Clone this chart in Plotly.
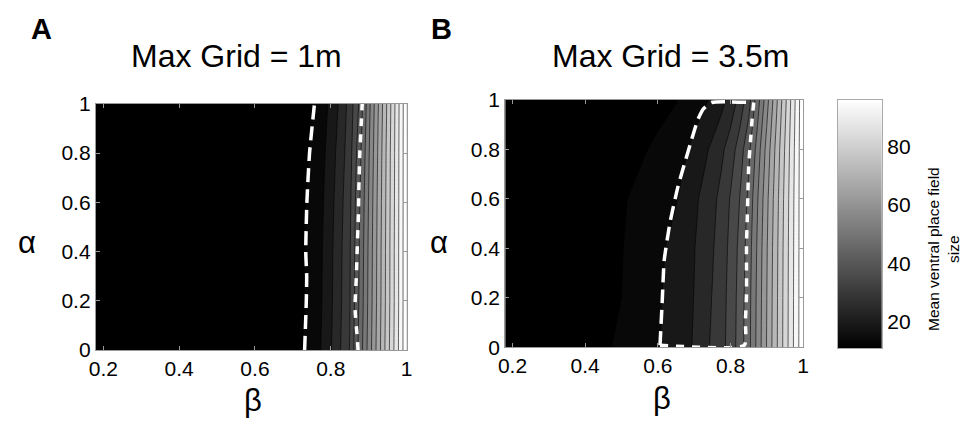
import numpy as np
import plotly.graph_objects as go

# ---------------- data ----------------
beta = [0.18, 0.3, 0.4, 0.5, 0.6, 0.65, 0.7, 0.725, 0.75, 0.775, 0.8,
        0.825, 0.85, 0.875, 0.9, 0.925, 0.95, 0.975, 1.0]
alpha = [0, 0.2, 0.4, 0.6, 0.8, 1.0]

# Panel A : Max Grid = 1m  (rows = alpha, cols = beta)
zA_a00 = [10, 10, 10, 10.2, 10.5, 10.8, 11.2, 11.7, 13.9, 17.2, 21.6, 26.8, 32.2, 43.3, 53.8, 64.4, 75.0, 85.5, 96]
zA_a02 = [10, 10, 10, 10.2, 10.5, 10.8, 11.2, 11.6, 13.5, 16.7, 21.1, 26.2, 31.6, 42.4, 53.1, 63.8, 74.5, 85.2, 96]
zA_a04 = [10, 10, 10, 10.2, 10.5, 10.8, 11.1, 11.6, 13.4, 16.5, 20.9, 26.0, 31.4, 42.0, 52.8, 63.6, 74.4, 85.2, 96]
zA_a06 = [10, 10, 10, 10.2, 10.4, 10.7, 11.0, 11.5, 13.0, 16.0, 20.3, 25.4, 30.8, 41.2, 52.2, 63.2, 74.1, 85.0, 96]
zA_a08 = [10, 10, 10, 10.1, 10.4, 10.6, 10.9, 11.4, 12.4, 15.3, 19.5, 24.4, 29.9, 39.8, 51.3, 62.6, 73.8, 84.9, 96]
zA_a10 = [10, 10, 10, 10.1, 10.3, 10.6, 10.9, 11.2, 11.7, 14.4, 18.2, 23.1, 29.0, 37.5, 50.2, 61.7, 73.1, 84.6, 96]

# Panel B : Max Grid = 3.5m
zB_a00 = [10, 10.5, 11.2, 12.3, 16.6, 19.3, 22.4, 25.2, 27.8, 30.4, 34.0, 39.2, 45.4, 53.8, 62.3, 70.7, 79.1, 87.6, 96]
zB_a02 = [10, 10.4, 11.1, 12.0, 16.4, 19.1, 22.1, 24.7, 27.2, 30.1, 33.7, 38.9, 45.1, 53.5, 62.0, 70.5, 79.0, 87.5, 96]
zB_a04 = [10, 10.3, 10.9, 11.8, 15.9, 18.6, 21.8, 24.1, 26.5, 29.6, 33.2, 38.3, 44.4, 53.0, 61.6, 70.2, 78.8, 87.4, 96]
zB_a06 = [10, 10.2, 10.7, 11.5, 14.6, 16.7, 20.9, 23.2, 25.6, 28.5, 32.4, 37.0, 43.1, 51.9, 60.7, 69.5, 78.4, 87.2, 96]
zB_a08 = [10, 10.1, 10.4, 11.0, 12.4, 14.3, 18.4, 20.6, 23.1, 25.9, 29.5, 34.3, 40.6, 49.4, 58.8, 68.1, 77.4, 86.7, 96]
zB_a10 = [10, 10.0, 10.2, 10.6, 11.3, 11.8, 14.4, 16.0, 17.8, 20.4, 23.8, 28.6, 34.9, 44.9, 55.1, 65.4, 75.6, 85.8, 96]

zA = [zA_a00, zA_a02, zA_a04, zA_a06, zA_a08, zA_a10]
zB = [zB_a00, zB_a02, zB_a04, zB_a06, zB_a08, zB_a10]

# dashed region boundaries (white)
A_left_alpha = [0, 0.2, 0.3, 0.4, 0.6, 0.8, 1.0]
A_left_beta = [0.731, 0.7355, 0.7365, 0.734, 0.737, 0.744, 0.757]
A_right_alpha = [0, 0.05, 0.17, 0.3, 0.42, 0.55, 0.68, 0.81, 0.94, 1.0]
A_right_beta = [0.872, 0.870, 0.864, 0.8675, 0.870, 0.873, 0.8745, 0.877, 0.881, 0.883]

# B: left boundary + top edge, then right boundary + bottom edge
B_left_alpha = [0.008, 0.18, 0.35, 0.5, 0.65, 0.79, 0.92, 0.965, 0.99, 0.99]
B_left_beta = [0.606, 0.612, 0.6175, 0.633, 0.6555, 0.683, 0.71, 0.726, 0.748, 0.862]
B_right_alpha = [0.99, 0.922, 0.833, 0.731, 0.628, 0.513, 0.411, 0.309, 0.207, 0.105, 0.008, 0.008]
B_right_beta = [0.864, 0.8595, 0.855, 0.850, 0.848, 0.846, 0.844, 0.844, 0.844, 0.841, 0.838, 0.606]

x_ticks = [0.2, 0.4, 0.6, 0.8, 1.0]
x_ticklabels = ["0.2", "0.4", "0.6", "0.8", "1"]
y_ticks = [0, 0.2, 0.4, 0.6, 0.8, 1.0]
y_ticklabels = ["0", "0.2", "0.4", "0.6", "0.8", "1"]
cb_ticks = [20, 40, 60, 80]
z_lo, z_hi = 11, 96

FONT = "Liberation Sans, Arial, sans-serif"
W, H = 967, 433
gray = [[0, "black"], [1, "white"]]

fig = go.Figure()

for z, xa, ya in [(zA, "x", "y"), (zB, "x2", "y2")]:
    fig.add_trace(go.Contour(
        x=beta, y=alpha, z=z, xaxis=xa, yaxis=ya,
        colorscale=gray, zmin=z_lo, zmax=z_hi, zauto=False,
        autocontour=False,
        contours=dict(start=12, end=97, size=5, coloring="fill"),
        line=dict(color="black", width=0.6, smoothing=0),
        showscale=False, hoverinfo="skip"))

dash_long = "14px,7px"
dash_short = "8px,8px"
def dashed(xs, ys, xa, ya, dash):
    fig.add_trace(go.Scatter(x=xs, y=ys, xaxis=xa, yaxis=ya, mode="lines",
                             line=dict(color="white", width=3.5, dash=dash,
                                       shape="spline", smoothing=0.5),
                             showlegend=False, hoverinfo="skip"))

dashed(A_left_beta, A_left_alpha, "x", "y", dash_long)
dashed(A_right_beta, A_right_alpha, "x", "y", dash_short)
dashed(B_left_beta, B_left_alpha, "x2", "y2", dash_long)
dashed(B_right_beta, B_right_alpha, "x2", "y2", dash_short)

# colorbar drawn as a heatmap strip
cb_vals = list(np.linspace(z_lo, z_hi, 256))
fig.add_trace(go.Heatmap(x=[0], y=cb_vals, z=[[v] for v in cb_vals], xaxis="x3", yaxis="y3",
                         colorscale=gray, zmin=z_lo, zmax=z_hi, showscale=False, hoverinfo="skip"))

def px_x(a, b):
    return [a / W, b / W]

def px_y(top, bot):
    return [1 - bot / H, 1 - top / H]

ax_common = dict(showline=True, linecolor="#999", linewidth=1, mirror="ticks",
                 ticks="inside", ticklen=4, tickcolor="#999", showgrid=False,
                 zeroline=False, tickfont=dict(size=21, color="black", family=FONT))

fig.update_layout(
    width=W, height=H, autosize=False,
    margin=dict(l=0, r=0, t=0, b=0),
    paper_bgcolor="white", plot_bgcolor="white",
    showlegend=False,
    xaxis=dict(domain=px_x(90, 405), range=[0.18, 1.0], anchor="y",
               tickvals=x_ticks, ticktext=x_ticklabels, **ax_common),
    yaxis=dict(domain=px_y(97, 357), range=[0, 1], anchor="x",
               tickvals=y_ticks, ticktext=y_ticklabels, **ax_common),
    xaxis2=dict(domain=px_x(505, 807), range=[0.18, 1.0], anchor="y2",
                tickvals=x_ticks, ticktext=x_ticklabels, **ax_common),
    yaxis2=dict(domain=px_y(93, 354), range=[0, 1], anchor="x2",
                tickvals=y_ticks, ticktext=y_ticklabels, **ax_common),
    xaxis3=dict(domain=px_x(842, 887), range=[-0.5, 0.5], anchor="y3",
                showticklabels=False, ticks="", showline=True, mirror=True,
                linecolor="#aaa", showgrid=False, zeroline=False),
    yaxis3=dict(domain=px_y(93, 355), range=[z_lo, z_hi], anchor="x3", side="right",
                tickvals=cb_ticks, ticks="", showline=True, mirror=True,
                linecolor="#aaa", showgrid=False, zeroline=False,
                tickfont=dict(size=21, color="black", family=FONT)),
)

ann = []
def add_text(text, x, y, size, bold=False, angle=0):
    ann.append(dict(text=("<b>%s</b>" % text) if bold else text,
                    x=x / W, y=1 - y / H, xref="paper", yref="paper",
                    xanchor="center", yanchor="middle", showarrow=False,
                    textangle=angle, font=dict(size=size, color="black", family=FONT)))

add_text("A", 35, 18, 29, bold=True)
add_text("B", 440, 18, 29, bold=True)
add_text("Max Grid = 1m", 233, 46, 32)
add_text("Max Grid = 3.5m", 673, 46, 32)
add_text("α", 20, 243, 31)
add_text("α", 438, 243, 31)
add_text("β", 249, 410, 31)
add_text("β", 664, 408, 31)
add_text("Mean ventral place field<br>size", 949, 250, 15.5, angle=-90)
fig.update_layout(annotations=ann)

fig.write_html("out.html")
